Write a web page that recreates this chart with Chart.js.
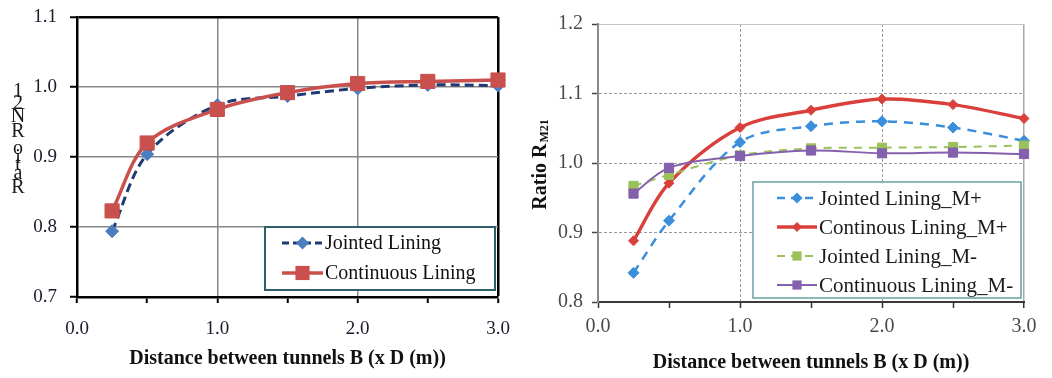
<!DOCTYPE html>
<html>
<head>
<meta charset="utf-8">
<style>
html,body{margin:0;padding:0;background:#fff;width:1052px;height:378px;overflow:hidden}
#wl{position:absolute;left:0;top:0;width:520px;height:378px}
#wr{position:absolute;left:520px;top:0;width:532px;height:378px}
canvas{display:block}
</style>
<script src="https://cdn.jsdelivr.net/npm/chart.js@4/dist/chart.umd.min.js"></script>
</head>
<body>
<div id="wl"><canvas id="cl" width="520" height="378"></canvas></div>
<div id="wr"><canvas id="cr" width="532" height="378"></canvas></div>
<script>
// ---------- DATA ----------
const xPositions = [0.25, 0.5, 1.0, 1.5, 2.0, 2.5, 3.0];

const leftJointed    = [0.794, 0.904, 0.974, 0.987, 0.998, 1.003, 1.002];
const leftContinuous = [0.823, 0.920, 0.968, 0.992, 1.005, 1.008, 1.010];

const rightJointedMPlus     = [0.842, 0.917, 1.030, 1.053, 1.060, 1.051, 1.032];
const rightContinuousMPlus  = [0.888, 0.971, 1.051, 1.076, 1.092, 1.084, 1.064];
const rightJointedMMinus    = [0.967, 0.983, 1.011, 1.021, 1.022, 1.023, 1.025];
const rightContinuousMMinus = [0.956, 0.993, 1.010, 1.018, 1.014, 1.015, 1.013];

const leftSeriesNames  = ['Jointed Lining', 'Continuous Lining'];
const rightSeriesNames = ['Jointed Lining_M+', 'Continous Lining_M+', 'Jointed Lining_M-', 'Continuous Lining_M-'];

const xTickLabels = ['0.0', '1.0', '2.0', '3.0'];
const leftYTickLabels  = ['0.7', '0.8', '0.9', '1.0', '1.1'];
const rightYTickLabels = ['0.8', '0.9', '1.0', '1.1', '1.2'];

const xAxisTitle = 'Distance between tunnels B (x D (m))';
const leftYTitleChars = ['1', '2', 'N', 'R', 'o', 'i', 't', 'a', 'R'];
const rightYTitleMain = 'Ratio R';
const rightYTitleSub  = 'M21';

// ---------- HELPERS ----------
const SERIF = '"Liberation Serif", "Times New Roman", serif';
Chart.defaults.font.family = SERIF;
const near = (a, b) => Math.abs(a - b) < 1e-6;
const pts = arr => xPositions.map((x, i) => ({x: x, y: arr[i]}));
const tv = c => (c && c.tick) ? c.tick.value : null;

function xTickCb(value) {
  const idx = xTickLabels.indexOf(Number(value).toFixed(1));
  return (near(value, Math.round(value)) && idx >= 0) ? xTickLabels[idx] : '';
}
function yTickCb(labels) {
  return function (value) {
    const s = Number(value).toFixed(1);
    return labels.indexOf(s) >= 0 ? s : '';
  };
}

function drawMarker(ctx, style, x, y, r, color) {
  ctx.beginPath();
  if (style === 'rectRot') {
    ctx.moveTo(x - r, y); ctx.lineTo(x, y - r); ctx.lineTo(x + r, y); ctx.lineTo(x, y + r);
    ctx.closePath();
  } else {
    const s = Math.SQRT1_2 * r;
    ctx.rect(x - s, y - s, 2 * s, 2 * s);
  }
  ctx.fillStyle = color;
  ctx.fill();
}

function legendPlugin(id, cfg) {
  return {
    id: id,
    afterDatasetsDraw(chart) {
      const ctx = chart.ctx;
      ctx.save();
      ctx.fillStyle = '#ffffff';
      ctx.fillRect(cfg.x, cfg.y, cfg.w, cfg.h);
      ctx.lineWidth = cfg.lw;
      ctx.strokeStyle = cfg.color;
      ctx.strokeRect(cfg.x, cfg.y, cfg.w, cfg.h);
      chart.data.datasets.forEach((ds, i) => {
        const y = cfg.rows[i];
        ctx.setLineDash(ds.legendDash || []);
        ctx.strokeStyle = ds.borderColor;
        ctx.lineWidth = ds.borderWidth;
        ctx.beginPath();
        ctx.moveTo(cfg.lx1, y); ctx.lineTo(cfg.lx2, y);
        ctx.stroke();
        ctx.setLineDash([]);
        drawMarker(ctx, ds.pointStyle, (cfg.lx1 + cfg.lx2) / 2, y, ds.pointRadius, ds.pointBackgroundColor);
        ctx.fillStyle = cfg.textColor;
        ctx.font = cfg.font;
        ctx.textAlign = 'left';
        ctx.textBaseline = 'middle';
        ctx.fillText(ds.label, cfg.tx, y + 1);
      });
      ctx.restore();
    }
  };
}

function fixWidth(w) {
  return function (scale) { scale.width = w; scale.paddingTop = 0; scale.paddingBottom = 0; };
}
function fixHeight(h) {
  return function (scale) { scale.height = h; scale.paddingLeft = 0; scale.paddingRight = 0; };
}

// ---------- LEFT CHART ----------
const leftStackedTitle = {
  id: 'leftStackedTitle',
  afterDraw(chart) {
    const ctx = chart.ctx;
    const ys = [92, 104, 117, 132, 149, 158, 165, 174, 188];
    ctx.save();
    ctx.fillStyle = '#1a1a1a';
    ctx.font = '20px ' + SERIF;
    ctx.textAlign = 'center';
    ctx.textBaseline = 'middle';
    leftYTitleChars.forEach((ch, i) => ctx.fillText(ch, 18, ys[i]));
    ctx.restore();
  }
};

new Chart(document.getElementById('cl'), {
  type: 'line',
  data: {
    datasets: [
      {
        label: leftSeriesNames[0], data: pts(leftJointed), order: 2,
        borderColor: '#1F3A73', borderWidth: 3, borderDash: [9, 5], legendDash: [7, 4],
        pointStyle: 'rectRot', pointRadius: 6.5, pointBackgroundColor: '#4A7EC0',
        pointBorderColor: '#4A7EC0', pointBorderWidth: 1, tension: 0.33, clip: false
      },
      {
        label: leftSeriesNames[1], data: pts(leftContinuous), order: 1,
        borderColor: '#C9504D', borderWidth: 3.5,
        pointStyle: 'rect', pointRadius: 10, pointBackgroundColor: '#C9504D',
        pointBorderColor: '#C9504D', pointBorderWidth: 1, tension: 0.33, clip: false
      }
    ]
  },
  options: {
    responsive: false, animation: false, devicePixelRatio: 1,
    layout: {padding: {left: 0, top: 17, right: 22, bottom: 0}},
    plugins: {legend: {display: false}, tooltip: {enabled: false}},
    scales: {
      x: {
        type: 'linear', min: 0, max: 3,
        afterFit: fixHeight(81),
        ticks: {stepSize: 0.5, autoSkip: false, maxRotation: 0, padding: 15, callback: xTickCb,
                color: '#1a1a2a', font: {size: 19, family: SERIF}},
        grid: {
          color: c => { const v = tv(c); if (v === null) return '#000';
                        if (near(v, 3)) return '#000';
                        if (near(v, 1) || near(v, 2)) return '#878787';
                        return 'rgba(0,0,0,0)'; },
          lineWidth: c => { const v = tv(c); return (v !== null && near(v, 3)) ? 2.5 : 1.5; },
          tickColor: '#000', tickWidth: 2, tickLength: 6
        },
        border: {display: true, color: '#000', width: 2.5},
        title: {display: true, text: xAxisTitle, color: '#111',
                font: {size: 20, weight: 'bold', family: SERIF}, padding: {top: 0, bottom: 7}}
      },
      y: {
        type: 'linear', min: 0.7, max: 1.1,
        afterFit: fixWidth(77),
        ticks: {stepSize: 0.1, autoSkip: false, padding: 13, callback: yTickCb(leftYTickLabels),
                color: '#1a1a2a', font: {size: 19, family: SERIF}},
        grid: {
          color: c => { const v = tv(c); if (v === null) return '#000';
                        if (near(v, 1.1)) return '#000';
                        if (near(v, 0.7)) return 'rgba(0,0,0,0)';
                        return '#878787'; },
          lineWidth: c => { const v = tv(c); return (v !== null && near(v, 1.1)) ? 2.5 : 1.5; },
          tickColor: '#000', tickWidth: 2, tickLength: 7
        },
        border: {display: true, color: '#000', width: 2.5}
      }
    }
  },
  plugins: [
    legendPlugin('leftLegend', {
      x: 265, y: 227, w: 230, h: 63, lw: 2, color: '#2F5F68',
      rows: [243, 273], lx1: 282, lx2: 323, tx: 325,
      font: '20px ' + SERIF, textColor: '#111'
    }),
    leftStackedTitle
  ]
});

// ---------- RIGHT CHART ----------
const rightYTitle = {
  id: 'rightYTitle',
  afterDraw(chart) {
    const ctx = chart.ctx;
    ctx.save();
    ctx.translate(21, 165);
    ctx.rotate(-Math.PI / 2);
    ctx.fillStyle = '#111';
    ctx.textBaseline = 'middle';
    ctx.textAlign = 'left';
    const f1 = 'bold 20px ' + SERIF, f2 = 'bold 12px ' + SERIF;
    ctx.font = f1; const w1 = ctx.measureText(rightYTitleMain).width;
    ctx.font = f2; const w2 = ctx.measureText(rightYTitleSub).width;
    const x0 = -(w1 + w2) / 2;
    ctx.font = f1; ctx.fillText(rightYTitleMain, x0, 0);
    ctx.font = f2; ctx.fillText(rightYTitleSub, x0 + w1 + 1, 4);
    ctx.restore();
  }
};

new Chart(document.getElementById('cr'), {
  type: 'line',
  data: {
    datasets: [
      {
        label: rightSeriesNames[0], data: pts(rightJointedMPlus), order: 4,
        borderColor: '#3A8EDB', borderWidth: 2.5, borderDash: [9, 7], legendDash: [8, 6],
        pointStyle: 'rectRot', pointRadius: 5.5, pointBackgroundColor: '#3A8EDB',
        pointBorderColor: '#3A8EDB', pointBorderWidth: 1, tension: 0.33, clip: false
      },
      {
        label: rightSeriesNames[1], data: pts(rightContinuousMPlus), order: 3,
        borderColor: '#D9403C', borderWidth: 3.5,
        pointStyle: 'rectRot', pointRadius: 5, pointBackgroundColor: '#D9403C',
        pointBorderColor: '#D9403C', pointBorderWidth: 1, tension: 0.33, clip: false
      },
      {
        label: rightSeriesNames[2], data: pts(rightJointedMMinus), order: 2,
        borderColor: '#9BC25A', borderWidth: 2, borderDash: [8, 7], legendDash: [8, 6],
        pointStyle: 'rect', pointRadius: 6.5, pointBackgroundColor: '#9BC25A',
        pointBorderColor: '#9BC25A', pointBorderWidth: 1, tension: 0.33, clip: false
      },
      {
        label: rightSeriesNames[3], data: pts(rightContinuousMMinus), order: 1,
        borderColor: '#8461AD', borderWidth: 2,
        pointStyle: 'rect', pointRadius: 6.5, pointBackgroundColor: '#8461AD',
        pointBorderColor: '#8461AD', pointBorderWidth: 1, tension: 0.33, clip: false
      }
    ]
  },
  options: {
    responsive: false, animation: false, devicePixelRatio: 1,
    layout: {padding: {left: 0, top: 24, right: 28, bottom: 0}},
    plugins: {legend: {display: false}, tooltip: {enabled: false}},
    scales: {
      x: {
        type: 'linear', min: 0, max: 3,
        afterFit: fixHeight(76),
        ticks: {stepSize: 0.5, autoSkip: false, maxRotation: 0, padding: 7, callback: xTickCb,
                color: '#4a4a4a', font: {size: 20, family: SERIF}},
        grid: {
          color: c => { const v = tv(c); if (v === null) return '#999';
                        if (near(v, 3)) return '#a8a8a8';
                        if (near(v, 1) || near(v, 2)) return '#9a9a9a';
                        return 'rgba(0,0,0,0)'; },
          lineWidth: c => { const v = tv(c); return (v !== null && near(v, 3)) ? 1.5 : 1; },
          tickColor: '#333', tickWidth: 1.5, tickLength: 6, tickBorderDash: []
        },
        border: {display: true, color: '#3a3a3a', width: 2,
                 dash: c => { const v = tv(c); return (v !== null && (near(v, 1) || near(v, 2))) ? [3, 2] : []; }},
        title: {display: true, text: xAxisTitle, color: '#111',
                font: {size: 20, weight: 'bold', family: SERIF}, padding: {top: 0, bottom: 3}}
      },
      y: {
        type: 'linear', min: 0.8, max: 1.2,
        afterFit: fixWidth(78),
        ticks: {stepSize: 0.1, autoSkip: false, padding: 9, callback: yTickCb(rightYTickLabels),
                color: '#4a4a4a', font: {size: 20, family: SERIF}},
        grid: {
          color: c => { const v = tv(c); if (v === null) return '#999';
                        if (near(v, 1.2)) return '#c4c4c4';
                        if (near(v, 0.8)) return 'rgba(0,0,0,0)';
                        return '#9a9a9a'; },
          lineWidth: 1,
          tickColor: '#444', tickWidth: 1.5, tickLength: 6, tickBorderDash: []
        },
        border: {display: true, color: '#8a8a8a', width: 2,
                 dash: c => { const v = tv(c); return (v !== null && !near(v, 1.2) && !near(v, 0.8)) ? [3, 2] : []; }}
      }
    }
  },
  plugins: [
    legendPlugin('rightLegend', {
      x: 233, y: 182, w: 268, h: 116, lw: 1.5, color: '#6A9EA6',
      rows: [198, 227, 256, 285], lx1: 257, lx2: 297, tx: 299,
      font: '21px ' + SERIF, textColor: '#1a1a1a'
    }),
    rightYTitle
  ]
});
</script>
</body>
</html>
